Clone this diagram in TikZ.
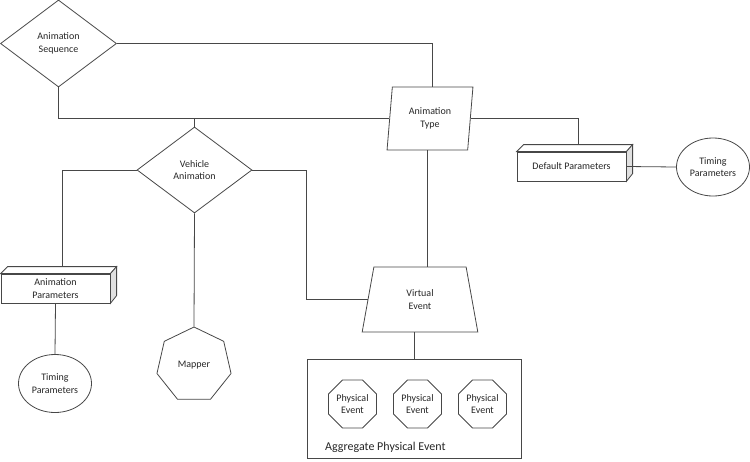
\documentclass[tikz,border=0pt]{standalone}
\usepackage{fontspec}
\setmainfont{Carlito}
\usetikzlibrary{shapes.geometric,calc}
\begin{document}
\begin{tikzpicture}[x=1pt,y=-1pt,
  every node/.style={font=\fontsize{10}{12.5}\selectfont, align=center, text=black!85},
  ln/.style={draw=black!72, line width=0.8pt},
  dia/.style={ln, diamond, inner sep=0pt, minimum width=116pt, minimum height=87pt},
  frontbox/.style={ln, rectangle, fill=white, inner sep=0pt, minimum width=109pt, minimum height=29pt},
  ell/.style={ln, ellipse, inner sep=0pt, minimum width=73pt, minimum height=58pt},
  octo/.style={ln, regular polygon, regular polygon sides=8, inner sep=0pt, minimum size=52pt},
  sideface/.style={ln, fill=black!12},
  topface/.style={ln, fill=white}
]
\useasboundingbox (0,0) rectangle (750,461);

% nodes
\node[dia] (seq) at (58.5,43.5) {Animation\\Sequence};
\node[ln, trapezium, trapezium left angle=82, trapezium right angle=98, trapezium stretches=true,
      minimum width=86pt, minimum height=63pt, inner sep=0pt] (type) at (430,118.5) {Animation\\Type};
\node[dia, minimum width=115pt, minimum height=86pt] (veh) at (194.5,170) {Vehicle\\Animation};
\node[ln, trapezium, trapezium left angle=80, trapezium right angle=80, trapezium stretches=true,
      minimum width=116pt, minimum height=65pt, inner sep=0pt] (ve) at (420,299.5) {Virtual\\Event};

% Default Parameters 3D box
\node[frontbox] (dp) at (571.5,166.5) {Default Parameters};
\draw[topface] (dp.north west) -- ++(7,-7) coordinate (dptl) -- ++(109,0) coordinate (dptr) -- (dp.north east) -- cycle;
\draw[sideface] (dp.north east) -- (dptr) -- ++(0,29) -- (dp.south east) -- cycle;
\coordinate (dptop) at ($(dptl)!0.5!(dptr)$);

% Animation Parameters 3D box
\node[frontbox] (ap) at (55.5,288.5) {Animation\\Parameters};
\draw[topface] (ap.north west) -- ++(7,-7) coordinate (aptl) -- ++(109,0) coordinate (aptr) -- (ap.north east) -- cycle;
\draw[sideface] (ap.north east) -- (aptr) -- ++(0,29) -- (ap.south east) -- cycle;
\coordinate (aptop) at ($(aptl)!0.5!(aptr)$);

\node[ell] (t1) at (713,167) {Timing\\Parameters};
\node[ell] (t2) at (55,383.5) {Timing\\Parameters};

\node[ln, regular polygon, regular polygon sides=7, inner sep=0pt, minimum size=76pt] (map) at (194,365) {Mapper};

% Aggregate box
\node[ln, rectangle, minimum width=214pt, minimum height=99pt, inner sep=0pt] (agg) at (414,408.5) {};
\node[octo] (p1) at (352.5,404) {Physical\\Event};
\node[octo] (p2) at (417.5,404) {Physical\\Event};
\node[octo] (p3) at (482.5,404) {Physical\\Event};
\node[anchor=base west, font=\fontsize{12}{14}\selectfont, inner sep=0pt] (aggl) at (325,450) {Aggregate Physical Event};

% connectors
\draw[ln] (seq.east) -| (type.top side);
\draw[ln] (seq.south) |- (type.left side);
\draw[ln] (veh.north) -- (veh.north |- type.left side);
\draw[ln] (type.right side) -| (dptop);
\draw[ln] (dp.east) -- (t1.west);
\draw[ln] (type.bottom side) -- (type.bottom side |- ve.north);
\draw[ln] (veh.west) -| (aptop);
\draw[ln] (ap.south) -- (t2.north);
\draw[ln] (veh.south) -- (map.north);
\draw[ln] (veh.east) -- ++(54,0) coordinate (vc) |- (ve.left side);
\draw[ln] (agg.north) -- (agg.north |- ve.south);
\end{tikzpicture}
\end{document}
